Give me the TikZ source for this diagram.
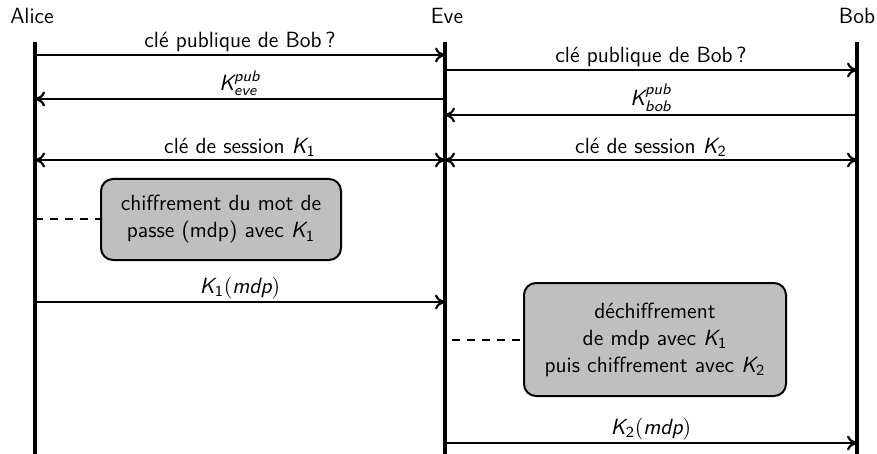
\documentclass[tikz,border=0pt]{standalone}
\usepackage{amsmath}
\usetikzlibrary{arrows.meta}

\tikzset{
  lifeline/.style = {line width=1.6pt},
  msg/.style      = {line width=1.1pt, -{To[length=5pt,width=7.5pt]}},
  msgboth/.style  = {line width=1.1pt, {To[length=5pt,width=7.5pt]}-{To[length=5pt,width=7.5pt]}},
  msglabel/.style = {above, inner sep=1pt},
  actionbox/.style = {draw, line width=1pt, rounded corners=6pt, fill=gray!50,
                      align=center, inner sep=0pt},
  linkdash/.style = {line width=1pt, dash pattern=on 4pt off 3.5pt}
}
\newcommand{\keyK}[1]{\textit{K}_{\text{#1}}}

\begin{document}
\begin{tikzpicture}[x=0.5pt, y=-0.5pt, font=\sffamily\fontsize{11}{13.5}\selectfont]
\useasboundingbox (0,0) rectangle (877,454);

% actors
\node (alice) at (32,16) {Alice};
\node (eve)   at (447,16) {Eve};
\node (bob)   at (857,16) {Bob};

% lifelines
\coordinate (alicetop) at (35,42);
\coordinate (alicebot) at (35,454);
\coordinate (evetop)   at (445,42);
\coordinate (evebot)   at (445,454);
\coordinate (bobtop)   at (857,42);
\coordinate (bobbot)   at (857,454);
\draw[lifeline] (alicetop) -- (alicebot);
\draw[lifeline] (evetop) -- (evebot);
\draw[lifeline] (bobtop) -- (bobbot);

% public keys
\coordinate (a1) at (35,55);   \coordinate (e1) at (445,55);
\coordinate (e2) at (445,70);  \coordinate (b2) at (857,70);
\coordinate (e3) at (445,99);  \coordinate (a3) at (35,99);
\coordinate (b4) at (857,115); \coordinate (e4) at (445,115);
\draw[msg] (a1) -- node[msglabel] {clé publique de Bob\,?} (e1);
\draw[msg] (e2) -- node[msglabel] {clé publique de Bob\,?} (b2);
\draw[msg] (e3) -- node[msglabel] {$\textit{K}_{\textit{eve}}^{\textit{pub}}$} (a3);
\draw[msg] (b4) -- node[msglabel] {$\textit{K}_{\textit{bob}}^{\textit{pub}}$} (e4);

% session keys
\coordinate (a5) at (35,160);  \coordinate (e5) at (445,160);
\coordinate (b5) at (857,160);
\draw[msgboth] (a5) -- node[msglabel] {clé de session $\keyK{1}$} (e5);
\draw[msgboth] (e5) -- node[msglabel] {clé de session $\keyK{2}$} (b5);

% alice encrypts
\node[actionbox, minimum width=120pt, minimum height=40.5pt] (encrypt) at (221,219.5)
    {chiffrement du mot de\\ passe (mdp) avec $\keyK{1}$};
\coordinate (a6) at (35,219.5);
\draw[linkdash] (a6) -- (encrypt.west);

\coordinate (a7) at (35,302);  \coordinate (e7) at (445,302);
\draw[msg] (a7) -- node[msglabel] {$\keyK{1}(\textit{mdp})$} (e7);

% eve decrypts and re-encrypts
\node[actionbox, minimum width=131pt, minimum height=56.5pt] (reencrypt) at (655,339.5)
    {déchiffrement\\ de mdp avec $\keyK{1}$\\ puis chiffrement avec $\keyK{2}$};
\coordinate (e8) at (452,339.5);
\draw[linkdash] (e8) -- (reencrypt.west);

\coordinate (e9) at (445,443); \coordinate (b9) at (857,443);
\draw[msg] (e9) -- node[msglabel] {$\keyK{2}(\textit{mdp})$} (b9);
\end{tikzpicture}
\end{document}
